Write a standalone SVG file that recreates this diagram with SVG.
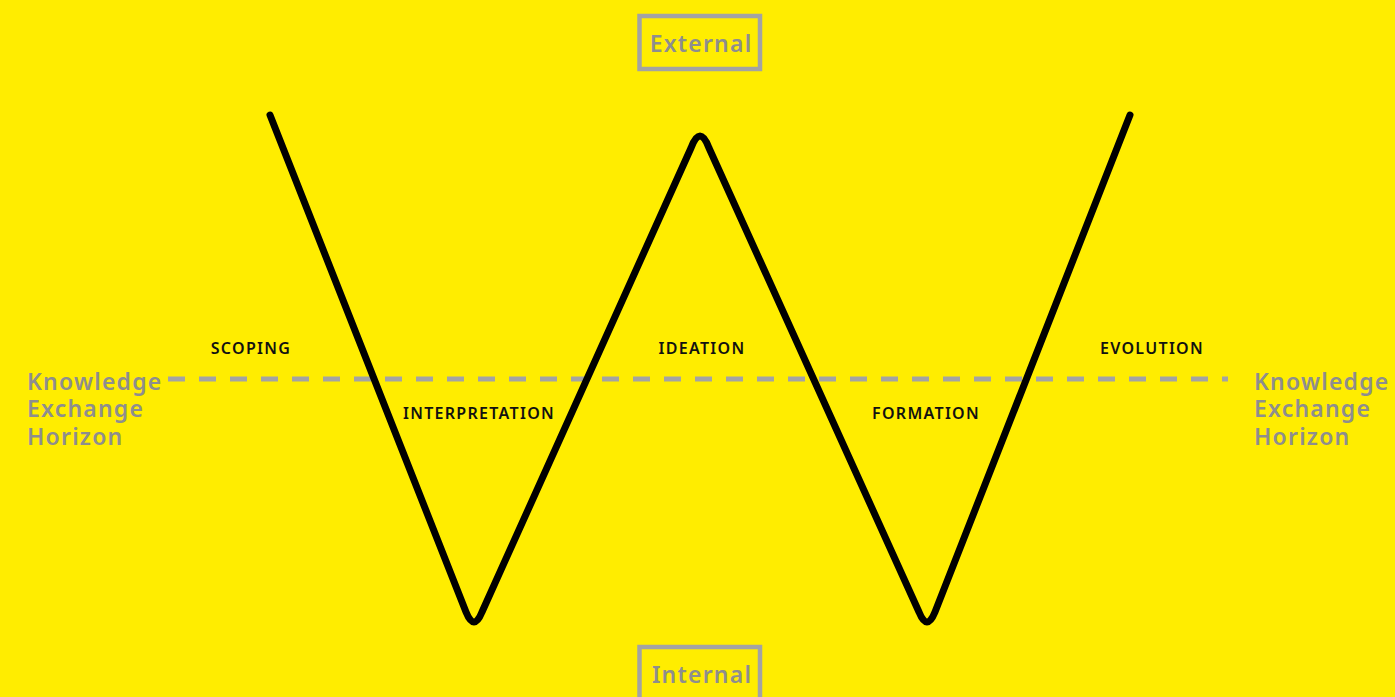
<svg xmlns="http://www.w3.org/2000/svg" width="1395" height="697" viewBox="0 0 1395 697">
<style>
.box{fill:none;stroke:#a3a3a3;stroke-width:4.5}
.gt{font-family:"Noto Sans","Liberation Sans",sans-serif;font-size:23px;font-weight:600;fill:#8e8e8e;letter-spacing:1.2px}
.lbl{font-family:"Noto Sans","Liberation Sans",sans-serif;font-size:16px;font-weight:600;fill:#111;text-anchor:middle;letter-spacing:1.3px}
</style>
<rect width="1395" height="697" fill="#ffed00"/>
<g id="horizon">
<line x1="168" y1="379" x2="1228" y2="379" stroke="#a3a3a3" stroke-width="5" stroke-dasharray="17 14"/>
</g>
<g id="connectors">
<path d="M270,115 L466,612 Q474,632 482,612 L691,148 Q700,124 709,148 L919,612 Q927,632 935,612 L1130,115" fill="none" stroke="#000" stroke-width="7" stroke-linecap="round" stroke-linejoin="round"/>
</g>
<g id="external">
<rect class="box" x="639.5" y="16" width="120.5" height="53"/>
<text class="gt" x="701" y="52" text-anchor="middle">External</text>
</g>
<g id="internal">
<rect class="box" x="639.5" y="647" width="120.5" height="60"/>
<text class="gt" x="702" y="683" text-anchor="middle">Internal</text>
</g>
<g id="horizon-left">
<text class="gt" x="27" y="390">Knowledge</text>
<text class="gt" x="27" y="417">Exchange</text>
<text class="gt" x="27" y="445">Horizon</text>
</g>
<g id="horizon-right">
<text class="gt" x="1254" y="390">Knowledge</text>
<text class="gt" x="1254" y="417">Exchange</text>
<text class="gt" x="1254" y="445">Horizon</text>
</g>
<g id="scoping"><text class="lbl" x="251" y="354">SCOPING</text></g>
<g id="interpretation"><text class="lbl" x="479" y="419">INTERPRETATION</text></g>
<g id="ideation"><text class="lbl" x="702" y="354">IDEATION</text></g>
<g id="formation"><text class="lbl" x="926" y="419">FORMATION</text></g>
<g id="evolution"><text class="lbl" x="1152" y="354">EVOLUTION</text></g>
</svg>
